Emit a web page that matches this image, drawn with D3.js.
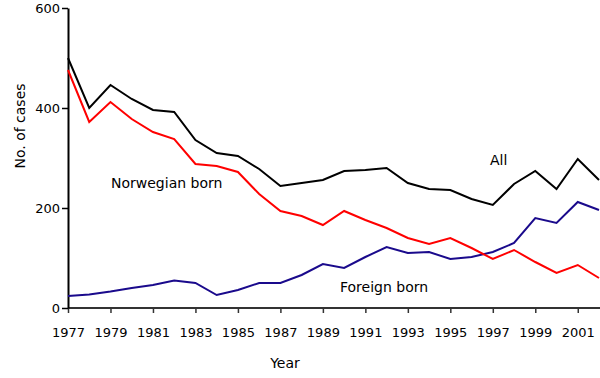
<!DOCTYPE html>
<html>
<head>
<meta charset="utf-8">
<script src="https://cdn.jsdelivr.net/npm/d3@7"></script>
<style>
  body { margin: 0; background: #fff; }
  text { font-family: "DejaVu Sans", Verdana, sans-serif; }
</style>
</head>
<body>
<script>
const WIDTH = 600
const HEIGHT = 378

// data
const years = d3.range(1977, 2003)
const allCases = [500, 400, 446, 418, 396, 392, 336, 310, 304, 278, 244, 250, 256, 274, 276, 280,
                  250, 238, 236, 218, 206, 248, 274, 238, 298, 256]
const norwegianBorn = [476, 372, 412, 378, 352, 338, 288, 284, 272, 228, 194, 184, 166, 194, 176, 160,
                       140, 128, 140, 120, 98, 116, 92, 70, 86, 60]
const foreignBorn = [24, 27, 33, 40, 46, 55, 50, 26, 36, 50, 50, 66, 88, 80, 102, 122,
                     110, 112, 98, 102, 112, 130, 180, 170, 212, 196]
const yTicks = [0, 200, 400, 600]
const xTicks = d3.range(1977, 2002, 2)

const series = [
  {name: "All", values: allCases, color: "#000000"},
  {name: "Norwegian born", values: norwegianBorn, color: "#ff0000"},
  {name: "Foreign born", values: foreignBorn, color: "#1a0a8c"}
]

var svg = d3.select("body").append("svg")
    .attr("width", WIDTH)
    .attr("height", HEIGHT)

var x = d3.scaleLinear()
    .domain([1977, 2002])
    .range([68, 599])

var y = d3.scaleLinear()
    .domain([0, 600])
    .range([308, 8])

// x axis
var xAxis = svg.append("g")
    .attr("transform", "translate(0," + y(0) + ")")
    .call(d3.axisBottom(x).tickValues(xTicks).tickFormat(d3.format("d")).tickSize(5).tickSizeOuter(0))
xAxis.select(".domain").attr("stroke", "#333").attr("stroke-width", 2).attr("d", "M" + x(1977) + ",0H600")
xAxis.selectAll(".tick line").attr("stroke", "#333").attr("stroke-width", 1.5)
xAxis.selectAll(".tick text").attr("font-size", 13).attr("fill", "#000").attr("dy", 0).attr("y", 29)

// y axis
var yAxis = svg.append("g")
    .attr("transform", "translate(" + x(1977) + ",0)")
    .call(d3.axisLeft(y).tickValues(yTicks).tickSize(6).tickSizeOuter(0))
yAxis.select(".domain").attr("stroke", "#000").attr("stroke-width", 2)
yAxis.selectAll(".tick line").attr("stroke", "#000").attr("stroke-width", 1.5)
yAxis.selectAll(".tick text").attr("font-size", 13).attr("fill", "#000").attr("x", -8)

// lines
var line = d3.line()
    .x(function(d, i) { return x(years[i]) })
    .y(function(d) { return y(d) })

svg.selectAll(".series")
    .data(series.slice().reverse())
    .enter().append("path")
    .attr("class", "series")
    .attr("d", function(s) { return line(s.values) })
    .attr("fill", "none")
    .attr("stroke", function(s) { return s.color })
    .attr("stroke-width", 2)

// labels on the lines
svg.append("text").attr("x", 490).attr("y", 165).attr("font-size", 14).text("All")
svg.append("text").attr("x", 111).attr("y", 188).attr("font-size", 14).text("Norwegian born")
svg.append("text").attr("x", 340).attr("y", 292).attr("font-size", 14).text("Foreign born")

// axis titles
svg.append("text")
    .attr("transform", "translate(25,126) rotate(-90)")
    .attr("text-anchor", "middle")
    .attr("font-size", 14)
    .text("No. of cases")
svg.append("text")
    .attr("x", 285)
    .attr("y", 368)
    .attr("text-anchor", "middle")
    .attr("font-size", 14)
    .text("Year")
</script>
</body>
</html>
